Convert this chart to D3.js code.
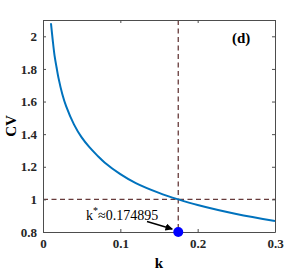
<!DOCTYPE html>
<html>
<head>
<meta charset="utf-8">
<script src="https://d3js.org/d3.v7.min.js"></script>
<style>
  body { margin: 0; background: #fff; }
  svg text { font-family: "Liberation Serif", "Times New Roman", Times, "DejaVu Serif", serif; }
</style>
</head>
<body>
<div id="chart-container"></div>
<script>
// values
var kValues  = [0.0103, 0.0125, 0.015, 0.0175, 0.02, 0.025, 0.03, 0.04, 0.05, 0.06, 0.07, 0.08, 0.1, 0.12, 0.15, 0.174895, 0.2, 0.25, 0.3];
var cvValues = [2.08,   1.98,   1.88,  1.81,   1.745, 1.645, 1.57, 1.46, 1.38, 1.32, 1.27, 1.225, 1.155, 1.10, 1.04, 1.0,   0.965, 0.91, 0.867];
var xTicks = [0, 0.1, 0.2, 0.3];
var yTicks = [0.8, 1, 1.2, 1.4, 1.6, 1.8, 2];
var kStar = 0.174895;
var cvLevel = 1;

var width = 304, height = 274;
var margin = { top: 20, right: 29, bottom: 42, left: 43 };
var serif = "'Liberation Serif', 'Times New Roman', Times, serif";

var svg = d3.select("#chart-container").append("svg")
    .attr("width", width)
    .attr("height", height)
    .attr("font-family", serif);

var x = d3.scaleLinear().domain([0, 0.3]).range([margin.left, width - margin.right]);
var y = d3.scaleLinear().domain([0.8, 2.1]).range([height - margin.bottom, margin.top]);

var axisColor = "#4d4d4d";
var dashColor = "#673b3b";

// dashed reference lines
svg.append("line")
    .attr("x1", x(kStar)).attr("x2", x(kStar))
    .attr("y1", y(2.1)).attr("y2", y(0.8))
    .attr("stroke", dashColor).attr("stroke-width", 1.3)
    .attr("stroke-dasharray", "5,3.5");
svg.append("line")
    .attr("x1", x(0)).attr("x2", x(0.3))
    .attr("y1", y(cvLevel)).attr("y2", y(cvLevel))
    .attr("stroke", dashColor).attr("stroke-width", 1.3)
    .attr("stroke-dasharray", "5,3.5");

// curve
var line = d3.line()
    .x(function (d) { return x(d[0]); })
    .y(function (d) { return y(d[1]); })
    .curve(d3.curveCatmullRom);

svg.append("path")
    .datum(d3.zip(kValues, cvValues))
    .attr("fill", "none")
    .attr("stroke", "#0072BD")
    .attr("stroke-width", 2)
    .attr("d", line);

// axes (ticks inward, boxed)
var gx = svg.append("g")
    .attr("transform", "translate(0," + y(0.8) + ")")
    .call(d3.axisBottom(x).tickValues(xTicks).tickSizeInner(-3).tickSizeOuter(0).tickPadding(7)
        .tickFormat(function (d) { return d === 0 ? "0" : d3.format(".1f")(d); }));
var gy = svg.append("g")
    .attr("transform", "translate(" + x(0) + ",0)")
    .call(d3.axisLeft(y).tickValues(yTicks).tickSizeInner(-3).tickSizeOuter(0).tickPadding(6)
        .tickFormat(function (d) { return d === 1 || d === 2 ? String(d) : d3.format(".1f")(d); }));
var gt = svg.append("g")
    .attr("transform", "translate(0," + y(2.1) + ")")
    .call(d3.axisTop(x).tickValues(xTicks).tickSizeInner(-3).tickSizeOuter(0).tickFormat(""));
var gr = svg.append("g")
    .attr("transform", "translate(" + x(0.3) + ",0)")
    .call(d3.axisRight(y).tickValues(yTicks).tickSizeInner(-3).tickSizeOuter(0).tickFormat(""));

[gx, gy, gt, gr].forEach(function (g) {
    g.attr("font-family", serif);
    g.select(".domain").attr("stroke", axisColor);
    g.selectAll(".tick line").attr("stroke", axisColor);
    g.selectAll(".tick text")
        .attr("fill", "#262626")
        .attr("font-family", serif)
        .attr("font-weight", "bold")
        .attr("font-size", 13);
});

// axis labels
svg.append("text")
    .attr("x", x(0.15)).attr("y", 268)
    .attr("text-anchor", "middle")
    .attr("font-weight", "bold").attr("font-size", 15)
    .text("k");
svg.append("text")
    .attr("transform", "translate(16," + y(1.45) + ") rotate(-90)")
    .attr("text-anchor", "middle")
    .attr("font-weight", "bold").attr("font-size", 15)
    .text("CV");

// panel label
svg.append("text")
    .attr("x", 232).attr("y", 43)
    .attr("font-weight", "bold").attr("font-size", 15)
    .text("(d)");

// annotation
var ann = svg.append("text")
    .attr("x", 86).attr("y", 220)
    .attr("font-size", 14);
ann.append("tspan").text("k");
ann.append("tspan").attr("dy", -6).attr("font-size", 10).text("*");
ann.append("tspan").attr("dy", 6).text("\u22480.174895");

svg.append("defs").append("marker")
    .attr("id", "arrow")
    .attr("viewBox", "0 0 10 10")
    .attr("refX", 9).attr("refY", 5)
    .attr("markerWidth", 5).attr("markerHeight", 5)
    .attr("orient", "auto")
    .append("path").attr("d", "M0,0 L10,5 L0,10 Z").attr("fill", "#000");

svg.append("line")
    .attr("x1", 147).attr("y1", 221.5)
    .attr("x2", x(kStar) - 6).attr("y2", y(0.8) - 3)
    .attr("stroke", "#000").attr("stroke-width", 1.5)
    .attr("marker-end", "url(#arrow)");

// marker at k*
svg.append("circle")
    .attr("cx", x(kStar)).attr("cy", y(0.8))
    .attr("r", 5)
    .attr("fill", "#0000ff");
</script>
</body>
</html>
